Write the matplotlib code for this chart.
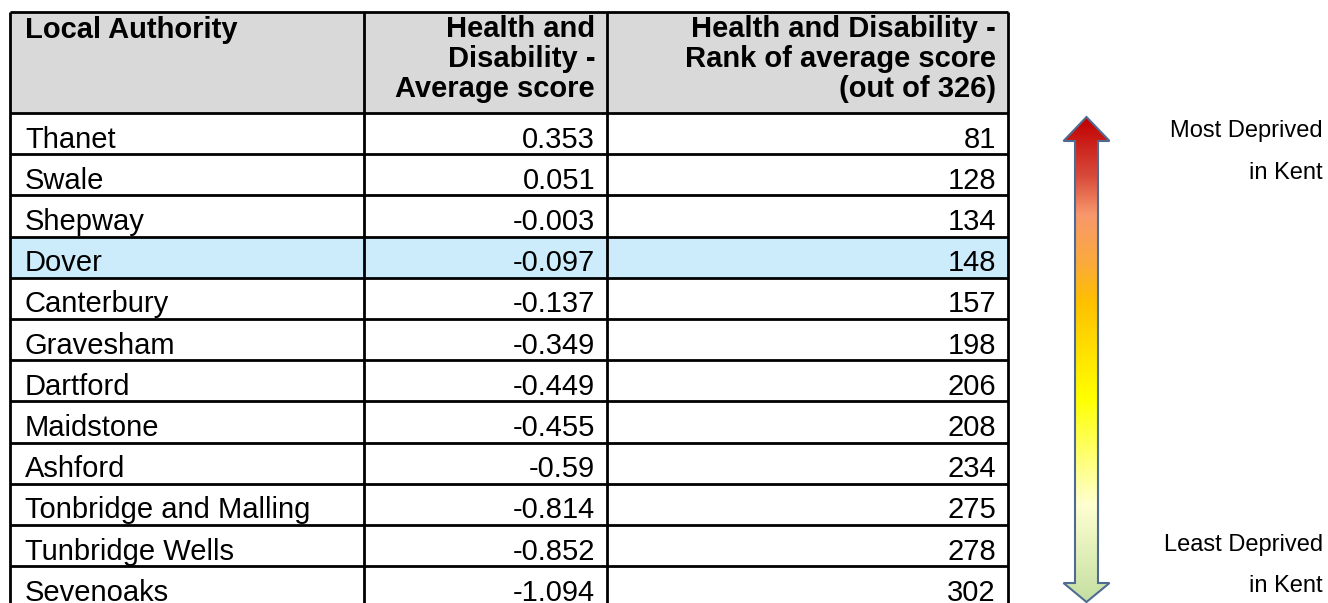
import numpy as np
import matplotlib.pyplot as plt
from matplotlib.patches import Rectangle, Polygon
from matplotlib.colors import LinearSegmentedColormap

plt.rcParams['font.family'] = ['Liberation Sans', 'DejaVu Sans']

# data
authorities = ['Thanet', 'Swale', 'Shepway', 'Dover', 'Canterbury', 'Gravesham',
               'Dartford', 'Maidstone', 'Ashford', 'Tonbridge and Malling',
               'Tunbridge Wells', 'Sevenoaks']
avg_score = [0.353, 0.051, -0.003, -0.097, -0.137, -0.349,
             -0.449, -0.455, -0.59, -0.814, -0.852, -1.094]
rank_score = [81, 128, 134, 148, 157, 198, 206, 208, 234, 275, 278, 302]
headers = ['Local Authority',
           'Health and\nDisability -\nAverage score',
           'Health and Disability -\nRank of average score\n(out of 326)']
highlight = 'Dover'
top_label = ['Most Deprived', 'in Kent']
bottom_label = ['Least Deprived', 'in Kent']

# layout (pixels)
W, H = 1328, 603
col_x = [10, 364, 607, 1008]
head_top, head_bot = 12, 113
row_h = 41.2
fs = 21

fig = plt.figure(figsize=(W / 100, H / 100), dpi=100)
ax = fig.add_axes([0, 0, 1, 1])
ax.set_xlim(0, W)
ax.set_ylim(H, 0)
ax.axis('off')

# header background
ax.add_patch(Rectangle((col_x[0], head_top), col_x[-1] - col_x[0], head_bot - head_top,
                       facecolor='#D9D9D9', edgecolor='none'))

# rows
for i, name in enumerate(authorities):
    y0 = head_bot + i * row_h
    yb = y0 + row_h / 2 + 14   # baseline
    if name == highlight:
        ax.add_patch(Rectangle((col_x[0], y0), col_x[-1] - col_x[0], row_h,
                               facecolor='#CCEBFB', edgecolor='none'))
    ax.text(col_x[0] + 15, yb, name, fontsize=fs, va='baseline', ha='left')
    ax.text(col_x[2] - 12, yb, str(avg_score[i]), fontsize=fs, va='baseline', ha='right')
    ax.text(col_x[3] - 12, yb, str(rank_score[i]), fontsize=fs, va='baseline', ha='right')

# header text
ax.text(col_x[0] + 15, 16, headers[0], fontsize=fs, fontweight='bold', va='top', ha='left')
ax.text(col_x[2] - 12, 15, headers[1], fontsize=fs, fontweight='bold', va='top', ha='right',
        linespacing=1.1)
ax.text(col_x[3] - 12, 15, headers[2], fontsize=fs, fontweight='bold', va='top', ha='right',
        linespacing=1.1)

# grid lines
lw = 2.0
n_lines = len(authorities) + 1
ys = [head_top] + [head_bot + k * row_h for k in range(n_lines)]
ax.hlines([y for y in ys if y < H], col_x[0], col_x[-1], colors='black', lw=lw)
ax.vlines(col_x, head_top, H + 5, colors='black', lw=lw)

# gradient double arrow
cx = 1086.5
tip_top, sh_top = 117, 141
sh_bot, tip_bot = 583, 602
hw, sw = 23, 11.5
pts = [(cx, tip_top), (cx + hw, sh_top), (cx + sw, sh_top), (cx + sw, sh_bot),
       (cx + hw, sh_bot), (cx, tip_bot), (cx - hw, sh_bot), (cx - sw, sh_bot),
       (cx - sw, sh_top), (cx - hw, sh_top)]
stops = [(0.0, '#C00000'), (0.12, '#D84A3A'), (0.20, '#F8986C'), (0.30, '#FBAA3C'),
         (0.38, '#FFC000'), (0.58, '#FFFF00'), (0.80, '#FFFFD0'), (1.0, '#C4DFA2')]
cmap = LinearSegmentedColormap.from_list('dep', stops)
grad = np.linspace(0, 1, 256).reshape(-1, 1)
outline = Polygon(pts, closed=True, facecolor='none', edgecolor='#4F6B94', lw=1.5, zorder=3)
img = ax.imshow(grad, cmap=cmap, aspect='auto', origin='upper',
                extent=(cx - hw, cx + hw, tip_bot, tip_top), zorder=2)
clip = Polygon(pts, closed=True, transform=ax.transData)
img.set_clip_path(clip)
ax.add_patch(outline)
ax.set_xlim(0, W)
ax.set_ylim(H, 0)

# side labels (baselines)
for txt, yb in zip(top_label + bottom_label, [137, 179, 551, 592]):
    ax.text(1323, yb, txt, fontsize=17, ha='right', va='baseline')

fig.savefig('out.png', dpi=100)
